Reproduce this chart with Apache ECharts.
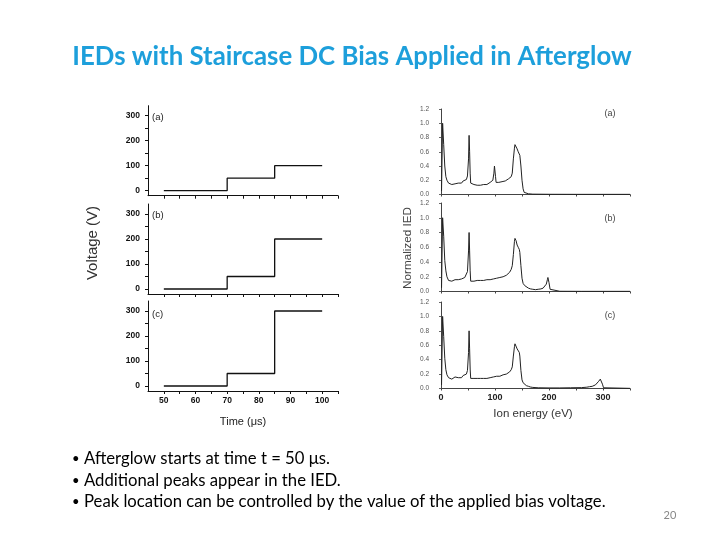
<!DOCTYPE html>
<html>
<head>
<meta charset="utf-8">
<script src="https://cdn.jsdelivr.net/npm/echarts@6/dist/echarts.min.js"></script>
<style>html,body{margin:0;padding:0;background:#fff}#c{width:720px;height:540px}</style>
</head>
<body>
<div id="c"></div>
<script>
// ---- data ----
var timeTicks = [50, 60, 70, 80, 90, 100];
var voltTicks = [0, 100, 200, 300];
var energyTicks = [0, 100, 200, 300];
var iedTicks = [0, 0.2, 0.4, 0.6, 0.8, 1.0, 1.2];
var panelLabels = ['(a)', '(b)', '(c)'];

var biasA = [[50, 0], [70, 0], [70, 50], [85, 50], [85, 100], [100, 100]];
var biasB = [[50, 0], [70, 0], [70, 50], [85, 50], [85, 200], [100, 200]];
var biasC = [[50, 0], [70, 0], [70, 50], [85, 50], [85, 300], [100, 300]];

var iedA = [[1,0.05],[3,1.0],[5,0.7],[7,0.4],[9,0.25],[11,0.2],[14,0.16],[17,0.15],[20,0.14],[23,0.16],[26,0.15],[29,0.17],[32,0.16],[35,0.17],[38,0.16],[41,0.19],[44,0.18],[47,0.21],[49,0.26],[51,0.5],[52,0.83],[53,0.6],[54,0.3],[55,0.16],[58,0.15],[61,0.14],[64,0.15],[67,0.13],[70,0.14],[73,0.13],[76,0.15],[79,0.14],[82,0.15],[85,0.14],[88,0.16],[91,0.17],[94,0.17],[96,0.2],[98,0.3],[99,0.4],[100,0.38],[101,0.25],[102,0.17],[104,0.15],[107,0.17],[110,0.16],[113,0.18],[116,0.19],[119,0.19],[122,0.21],[125,0.22],[128,0.23],[130,0.25],[132,0.3],[134,0.5],[136,0.65],[137,0.7],[139,0.68],[141,0.64],[143,0.6],[145,0.58],[146,0.55],[148,0.4],[150,0.2],[152,0.08],[154,0.03],[157,0.015],[162,0.01],[170,0.005],[200,0.003],[250,0.002],[300,0.002],[350,0.002]];

var iedB = [[1,0.05],[3,1.0],[5,0.75],[7,0.42],[9,0.28],[11,0.2],[14,0.15],[17,0.13],[20,0.14],[23,0.15],[26,0.16],[29,0.15],[32,0.16],[35,0.17],[38,0.17],[41,0.19],[44,0.19],[47,0.21],[49,0.27],[51,0.55],[52,0.8],[53,0.55],[54,0.28],[55,0.14],[58,0.13],[61,0.14],[64,0.13],[67,0.15],[70,0.14],[73,0.15],[76,0.14],[79,0.15],[82,0.15],[85,0.16],[88,0.15],[91,0.16],[94,0.16],[97,0.17],[100,0.17],[103,0.18],[106,0.18],[109,0.19],[112,0.19],[115,0.2],[118,0.21],[121,0.22],[124,0.24],[127,0.26],[130,0.3],[132,0.35],[134,0.5],[136,0.68],[137,0.72],[139,0.69],[141,0.63],[143,0.6],[145,0.57],[146,0.53],[148,0.35],[150,0.18],[152,0.11],[155,0.08],[158,0.06],[162,0.045],[166,0.035],[170,0.03],[175,0.025],[180,0.03],[185,0.035],[189,0.045],[192,0.06],[195,0.1],[197,0.16],[198,0.19],[200,0.12],[202,0.03],[204,0.005],[220,0.003],[260,0.002],[300,0.002],[350,0.002]];

var iedC = [[1,0.05],[3,1.0],[5,0.72],[7,0.42],[9,0.26],[11,0.19],[14,0.15],[17,0.14],[20,0.13],[23,0.15],[26,0.16],[29,0.14],[32,0.15],[35,0.16],[38,0.15],[41,0.18],[44,0.18],[47,0.2],[49,0.25],[51,0.5],[52,0.8],[53,0.55],[54,0.27],[55,0.14],[58,0.12],[61,0.14],[64,0.13],[67,0.14],[70,0.13],[73,0.14],[76,0.15],[79,0.14],[82,0.15],[85,0.14],[88,0.16],[91,0.15],[94,0.15],[97,0.16],[100,0.16],[103,0.17],[106,0.17],[109,0.17],[112,0.18],[115,0.19],[118,0.19],[121,0.2],[124,0.21],[127,0.23],[130,0.26],[132,0.3],[134,0.45],[136,0.58],[137,0.62],[139,0.6],[141,0.55],[143,0.53],[145,0.5],[146,0.45],[148,0.25],[150,0.12],[152,0.08],[155,0.06],[158,0.04],[162,0.03],[166,0.02],[170,0.015],[180,0.01],[200,0.008],[220,0.008],[240,0.01],[260,0.012],[270,0.018],[275,0.025],[280,0.03],[283,0.028],[286,0.05],[289,0.07],[292,0.1],[295,0.13],[297,0.11],[299,0.06],[301,0.01],[303,0.003],[350,0.002]];

// ---- chart ----
var chart = echarts.init(document.getElementById('c'), null, {renderer: 'canvas'});

var leftTops = [105.7, 204, 301];
var rightTops = [109, 203, 302];
var rightHeights = [85.5, 88.5, 86.5];
var biasSets = [biasA, biasB, biasC];
var iedSets = [iedA, iedB, iedC];

var grids = [], xAxes = [], yAxes = [], series = [];
function range(a, b, s) { var r = []; for (var v = a; v <= b + 1e-9; v += s) r.push(Math.round(v * 100) / 100); return r; }

for (var i = 0; i < 3; i++) {
  grids.push({left: 148, top: leftTops[i], width: 190, height: 90});
  xAxes.push({
    type: 'value', gridIndex: i, min: 45, max: 105,
    axisLine: {show: true, onZero: false, lineStyle: {color: '#111', width: 1}},
    axisTick: {show: true, length: 3, lineStyle: {color: '#111'}, customValues: range(50, 105, 5)},
    axisLabel: {show: i === 2, customValues: timeTicks, color: '#111', fontFamily: 'Liberation Sans', fontWeight: 'bold', fontSize: 8.5, margin: 5},
    splitLine: {show: false}
  });
  yAxes.push({
    type: 'value', gridIndex: i, min: -20, max: 340,
    axisLine: {show: true, onZero: false, lineStyle: {color: '#111', width: 1}},
    axisTick: {show: true, length: 3, lineStyle: {color: '#111'}, customValues: range(0, 300, 50)},
    axisLabel: {customValues: voltTicks, color: '#111', fontFamily: 'Liberation Sans', fontWeight: 'bold', fontSize: 8.5, margin: 8},
    splitLine: {show: false}
  });
  series.push({
    type: 'line', xAxisIndex: i, yAxisIndex: i, data: biasSets[i], showSymbol: false,
    lineStyle: {color: '#111', width: 1.3}, animation: false
  });
}
for (var j = 0; j < 3; j++) {
  var k = j + 3;
  grids.push({left: 441, top: rightTops[j], width: 189, height: rightHeights[j]});
  xAxes.push({
    type: 'value', gridIndex: k, min: 0, max: 350,
    axisLine: {show: true, onZero: false, lineStyle: {color: '#444', width: 1}},
    axisTick: {show: true, length: 2, lineStyle: {color: '#444'}, customValues: range(0, 350, 50)},
    axisLabel: {show: j === 2, customValues: energyTicks, color: '#222', fontFamily: 'Liberation Sans', fontWeight: 'bold', fontSize: 9, margin: 5},
    splitLine: {show: false}
  });
  yAxes.push({
    type: 'value', gridIndex: k, min: 0, max: 1.2,
    axisLine: {show: true, onZero: false, lineStyle: {color: '#444', width: 1}},
    axisTick: {show: true, length: 2, lineStyle: {color: '#666'}, customValues: iedTicks},
    axisLabel: {customValues: iedTicks, color: '#555', fontFamily: 'Liberation Sans', fontSize: 6.5, margin: 12,
      formatter: function (v) { return v.toFixed(1); }},
    splitLine: {show: false}
  });
  series.push({
    type: 'line', xAxisIndex: k, yAxisIndex: k, data: iedSets[j], showSymbol: false,
    lineStyle: {color: '#222', width: 1}, animation: false
  });
}

function txt(x, y, s, st) {
  var o = {type: 'text', x: x, y: y, style: Object.assign({text: s, fill: '#111', fontFamily: 'Liberation Sans', fontSize: 10, textAlign: 'left', textVerticalAlign: 'middle'}, st || {})};
  return o;
}
var g = [];
g.push(txt(352, 57, 'IEDs with Staircase DC Bias Applied in Afterglow', {fill: '#1D9FDB', fontFamily: 'Lato', fontWeight: 'bold', fontSize: 25.8, textAlign: 'center'}));
var leftLabelY = [117, 215, 314];
var rightLabelY = [114, 219, 316];
for (var m = 0; m < 3; m++) {
  g.push(txt(152, leftLabelY[m], panelLabels[m], {fontSize: 9.5, fill: '#222'}));
  g.push(txt(610, rightLabelY[m], panelLabels[m], {fontSize: 9, fill: '#444', textAlign: 'center'}));
}
g.push({type: 'text', x: 93, y: 243, rotation: Math.PI / 2, style: {text: 'Voltage (V)', fill: '#333', fontFamily: 'Liberation Sans', fontSize: 15, textAlign: 'center', textVerticalAlign: 'middle'}});
g.push({type: 'text', x: 408, y: 248, rotation: Math.PI / 2, style: {text: 'Normalized IED', fill: '#444', fontFamily: 'Liberation Sans', fontSize: 11.7, textAlign: 'center', textVerticalAlign: 'middle'}});
g.push(txt(243, 422, 'Time (\u03bcs)', {fontSize: 11, textAlign: 'center', fill: '#222'}));
g.push(txt(533, 414, 'Ion energy (eV)', {fontSize: 11.5, textAlign: 'center', fill: '#333'}));

var bullets = ['Afterglow starts at time t = 50 \u03bcs.', 'Additional peaks appear in the IED.', 'Peak location can be controlled by the value of the applied bias voltage.'];
var bulletY = [459, 481, 502];
for (var b = 0; b < 3; b++) {
  g.push(txt(72, bulletY[b], '\u2022', {fontSize: 13, fill: '#000', fontFamily: 'Lato'}));
  g.push(txt(84, bulletY[b], bullets[b], {fontSize: 16.7, fill: '#000', fontFamily: 'Lato'}));
}
g.push(txt(670, 515, '20', {fontSize: 11, fill: '#888', fontFamily: 'Lato', textAlign: 'center'}));

chart.setOption({
  backgroundColor: '#fff',
  animation: false,
  grid: grids, xAxis: xAxes, yAxis: yAxes, series: series,
  graphic: g
});
</script>
</body>
</html>
